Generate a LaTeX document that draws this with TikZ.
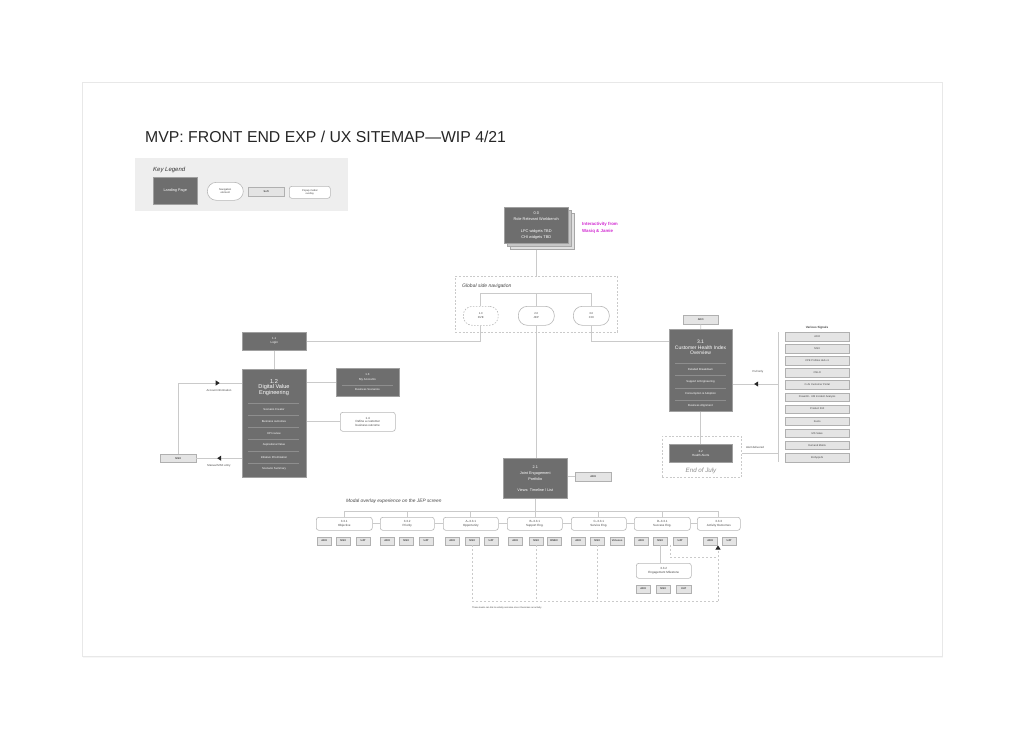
\documentclass[tikz,border=0pt]{standalone}
\usepackage{fontspec}
\setmainfont{Liberation Sans}
\usetikzlibrary{decorations.markings,arrows.meta,calc}
\definecolor{dk}{HTML}{6E6E6E}
\definecolor{dkedge}{HTML}{A0A0A0}
\definecolor{ln}{HTML}{CACACA}
\definecolor{softfill}{HTML}{E4E4E4}
\definecolor{softedge}{HTML}{B0B0B0}
\definecolor{pilledge}{HTML}{B8B8B8}
\definecolor{legbg}{HTML}{EEEEEE}
\definecolor{sepc}{HTML}{8E8E8E}
\definecolor{mag}{HTML}{D22AD2}
\definecolor{txt}{HTML}{444444}
\newcommand\fsz[2]{\fontsize{#1}{#2}\selectfont}
\tikzset{
 dark/.style={draw=dkedge, fill=dk, text=white, inner sep=0pt, anchor=north west, align=center, line width=0.5pt},
 soft/.style={draw=softedge, fill=softfill, text=txt, inner sep=0pt, anchor=north west, font=\fsz{2.6}{3}\bfseries, line width=0.4pt},
 pill/.style={draw=pilledge, fill=white, rounded corners=9pt, inner sep=0pt, anchor=north west, align=center, text=txt, font=\fsz{2.8}{3.6}, line width=0.6pt},
 popup/.style={draw=pilledge, fill=white, rounded corners=2.5pt, inner sep=0pt, anchor=north west, align=center, text=txt, font=\fsz{3}{3.6}, line width=0.6pt},
 conn/.style={draw=ln, line width=0.8pt},
 dashc/.style={draw=ln, line width=0.6pt, dash pattern=on 2pt off 2pt},
 dashbox/.style={draw=ln, line width=0.7pt, dash pattern=on 2pt off 1.6pt, inner sep=0pt, anchor=north west},
 lbl/.style={inner sep=0pt, text=txt, font=\fsz{2.8}{3.4}},
 wlbl/.style={inner sep=0pt, text=white, font=\fsz{2.8}{3.4}, align=center},
 sepl/.style={draw=sepc, line width=0.4pt},
 midarrow/.style={postaction={decorate}, decoration={markings, mark=at position #1 with {\fill[black!85] (2,0) -- (-2,2.6) -- (-2,-2.6) -- cycle;}}},
}
\begin{document}
\begin{tikzpicture}[x=1pt,y=-1pt]
\useasboundingbox (0,0) rectangle (1024,737);
\fill[white] (0,0) rectangle (1024,737);
% card
\fill[black!3] (83,84) rectangle (943,658);
\draw[black!9, fill=white, line width=0.6pt] (82,82) rectangle (942,656);

% title
\node[anchor=base west, inner sep=0pt, font=\fsz{15.8}{19}, text=black!85] (title) at (145,142) {MVP: FRONT END EXP / UX SITEMAP—WIP 4/21};

% legend
\node[fill=legbg, minimum width=213, minimum height=53, anchor=north west, inner sep=0pt] (legend) at (135,158) {};
\node[anchor=base west, inner sep=0pt, font=\fsz{6}{7}\itshape, text=black!80] (legt) at (153,171.5) {Key Legend};
\node[dark, minimum width=44, minimum height=27, font=\fsz{3.8}{4.5}] (legland) at (153,177) {Landing Page};
\node[pill, minimum width=36, minimum height=18, font=\fsz{2.6}{3.2}] (legpill) at (207,182) {Navigation\\element};
\node[soft, minimum width=36, minimum height=9] (legsoft) at (248,187) {Soft};
\node[popup, minimum width=41, minimum height=12, font=\fsz{2.6}{3.2}] (legpop) at (289,186) {Popup modal\\overlay};

% 0.0 stack
\node[draw=black!35, fill=black!12, minimum width=64, minimum height=36, inner sep=0pt, anchor=north west, line width=0.5pt] (w3) at (510,213) {};
\node[draw=black!35, fill=black!22, minimum width=64, minimum height=36, inner sep=0pt, anchor=north west, line width=0.5pt] (w2) at (507,210) {};
\node[dark, minimum width=64, minimum height=36, font=\fsz{3.9}{6}] (w00) at (504,207) {0.0\\Role Relevant Workbench\\[6pt]LPC widgets TBD\\CHI widgets TBD};
\node[anchor=north west, inner sep=0pt, font=\fsz{4.4}{7}\bfseries, text=mag, align=left] (inter) at (582,222.5) {Interactivity from\\Wasiq \& Jamie};

% global navigation
\node[dashbox, minimum width=162, minimum height=56] (gnav) at (455,276) {};
\node[anchor=base west, inner sep=0pt, font=\fsz{5}{6}\itshape, text=txt] (gnavt) at (462,287) {Global side navigation};
\node[pill, minimum width=35, minimum height=19, dash pattern=on 1.5pt off 1.5pt] (p10) at (463,306) {1.0\\DVE};
\node[pill, minimum width=36, minimum height=19] (p20) at (518,306) {2.0\\JEP};
\node[pill, minimum width=36, minimum height=19] (p30) at (573,306) {3.0\\CHI};
\draw[conn] (w00.south |- w3.south) -- (w00.south |- gnav.north);
\draw[conn] (p10.north) -- (p10.north |- 0,293) -| (p30.north);
\draw[conn] (p20.north) -- (p20.north |- 0,293);

% 1.x
\node[dark, minimum width=64, minimum height=18, font=\fsz{3}{4}] (n11) at (242,332) {1.1\\Login};
\draw[conn] (n11.east) -| (p10.south);
\node[dark, minimum width=64, minimum height=108] (n12) at (242,369) {};
\draw[conn] (n11.south) -- (n12.north);
\node[wlbl, font=\fsz{5.6}{5.6}] (n12t) at (274,387.5) {1.2\\Digital Value\\Engineering};
\foreach \yy in {403,415,427,439,451,463} \draw[sepl] (248,\yy) -- (299,\yy);
\node[wlbl] (r1) at (274,409) {Scenario Creator};
\node[wlbl] (r2) at (274,421) {Business outcomes};
\node[wlbl] (r3) at (274,433) {KPI review};
\node[wlbl] (r4) at (274,445) {Aspirational Value};
\node[wlbl] (r5) at (274,457) {Initiative Prioritization};
\node[wlbl] (r6) at (274,469) {Scenario Summary};

\node[dark, minimum width=63, minimum height=28] (n13) at (336,368) {};
\node[wlbl, font=\fsz{2.9}{5}] (n13t) at (367.5,377.5) {1.3\\My Accounts};
\draw[sepl] (342,385) -- (393,385);
\node[wlbl] (n13b) at (367.5,389) {Business Scenarios};
\draw[conn] (n13.west -| n12.east) -- (n13.west);

\node[popup, minimum width=55, minimum height=19, font=\fsz{3}{3.7}] (n14) at (340,412) {1.4\\Define a customer\\business outcome};
\draw[conn] (n14.west -| n12.east) -- (n14.west);

\node[soft, minimum width=36, minimum height=8] (msx) at (160,454) {MSX};
\coordinate (ai) at (242,383);
\draw[conn, midarrow=0.82] (msx.north) |- (ai);
\node[lbl, anchor=north] (ailbl) at (219,389) {Account information};
\draw[conn, midarrow=0.5] (n12.west |- msx.east) -- (msx.east);
\node[lbl, anchor=north] (melbl) at (219,464.5) {Manual MSX entry};

% 3.x
\node[soft, minimum width=35, minimum height=9] (ado31) at (683,315) {ADO};
\node[dark, minimum width=63, minimum height=82] (n31) at (669,329) {};
\draw[conn] (ado31.south) -- (n31.north);
\draw[conn] (p30.south) |- (n31.north west |- n11.east);
\node[wlbl, font=\fsz{5}{5.6}] (n31t) at (700.5,347.5) {3.1\\Customer Health Index\\Overview};
\foreach \yy in {363,375,388,400} \draw[sepl] (675,\yy) -- (726,\yy);
\node[wlbl] (q1) at (700.5,369) {Detailed Breakdown};
\node[wlbl] (q2) at (700.5,381.5) {Support \& Engineering};
\node[wlbl] (q3) at (700.5,393.5) {Consumption \& Adoption};
\node[wlbl] (q4) at (700.5,405.5) {Business Alignment};

\node[dashbox, minimum width=79, minimum height=41] (eoj) at (662,436) {};
\node[dark, minimum width=63, minimum height=18, font=\fsz{3}{4.5}] (n32) at (669,444) {3.2\\Health Alerts};
\node[inner sep=0pt, font=\fsz{6.2}{7}\itshape, text=black!45] (eojt) at (701,471) {End of July};
\draw[conn] (n31.south) -- (n32.north);

% signals
\node[inner sep=0pt, font=\fsz{3}{4}\bfseries, text=txt] (sigt) at (817,328) {Various Signals};
\foreach \i/\t in {0/ADO,1/MSX,2/CPE Profiles Hub v1,3/OSLO,4/C+AI Customer Portal,5/PowerBI - IcM Incident Analysis,6/Product 360,7/Kusto,8/MS Sales,9/Demand Matrix,10/BizAppsAI}
  \node[soft, minimum width=64, minimum height=8.5, font=\fsz{2.6}{3}] (s\i) at (785,332+12.1*\i) {\t};
\coordinate (sigtop) at (778,332);
\coordinate (sigbot) at (778,462);
\draw[conn] (sigtop) -- (sigbot);
\coordinate (pull) at (778,384);
\draw[conn, midarrow=0.48] (pull) -- (pull -| n31.east);
\node[lbl] (pulllbl) at (758,372) {Pull only};
\coordinate (alert) at (778,453);
\draw[conn] (alert) -- (alert -| eoj.east);
\node[lbl] (alertlbl) at (755,447) {Alert delivered};

% 2.x
\node[dark, minimum width=64, minimum height=40, font=\fsz{3.8}{6}] (n21) at (503,458) {2.1\\Joint Engagement\\Portfolio\\[5pt]Views: Timeline / List};
\draw[conn] (p20.south) -- (p20.south |- n21.north);
\node[soft, minimum width=36, minimum height=9] (ado21) at (575,472) {ADO};
\draw[conn] (n21.east |- ado21.west) -- (ado21.west);

\node[anchor=base west, inner sep=0pt, font=\fsz{4.8}{6}\itshape, text=txt] (modal) at (346,502) {Modal overlay experience on the JEP screen};

\node[popup, minimum width=56, minimum height=13] (o1) at (316,517) {3.3.1\\Objective};
\node[popup, minimum width=54, minimum height=13] (o2) at (380,517) {3.3.2\\Priority};
\node[popup, minimum width=55, minimum height=13] (o3) at (443,517) {A–3.3.1\\Opportunity};
\node[popup, minimum width=55, minimum height=13] (o4) at (507,517) {B–3.3.1\\Support Eng.};
\node[popup, minimum width=55, minimum height=13] (o5) at (571,517) {C–3.3.1\\Service Eng.};
\node[popup, minimum width=56, minimum height=13] (o6) at (634,517) {D–3.3.1\\Success Eng.};
\node[popup, minimum width=43, minimum height=13] (o7) at (697,517) {3.3.3\\Activity Outcomes};
\draw[conn] (n21.south) -- (n21.south |- o4.north);
\draw[conn] (o1.north) -- (o1.north |- 0,511) -| (o7.north);
\foreach \o in {o2,o3,o5,o6} \draw[conn] (\o.north) -- (\o.north |- 0,511);
\draw[conn] (o1.east) -- (o2.west);
\draw[conn] (o2.east) -- (o3.west);
\draw[conn] (o3.east) -- (o4.west);
\draw[conn] (o4.east) -- (o5.west);
\draw[conn] (o5.east) -- (o6.west);
\draw[conn] (o6.east) -- (o7.west);

\foreach \n/\x/\t in {o1a/317/ADO,o1b/336/MSX,o1c/356/UAT,o2a/380/ADO,o2b/399/MSX,o2c/419/UAT,o3a/445/ADO,o3b/465/MSX,o3c/484/UAT,o4a/508/ADO,o4b/529/MSX,o4c/547/RMEX,o5a/571/ADO,o5b/590/MSX,o5c/610/Virtuoso,o6a/634/ADO,o6b/653/MSX,o6c/673/UAT,o7a/703/ADO,o7b/722/UAT}
  \node[soft, minimum width=14, minimum height=7.5] (\n) at (\x,537) {\t};

% dashed feedback paths
\coordinate (botR) at (718,601);
\coordinate (arrtip) at (718,545.5);
\coordinate (dR) at (718,557);
\draw[dashc] (o3b.south) |- (botR);
\draw[dashc] (o4b.south) -- (o4b.south |- botR);
\draw[dashc] (o5b.south) -- (o5b.south |- botR);
\draw[dashc, -{Triangle[length=4pt,width=5pt,color=black!85]}] (botR) -- (arrtip);
\draw[dashc] ($(o6b.south)!0.5!(o6c.south)$) |- (dR);

% engagement milestone
\node[popup, minimum width=55, minimum height=15] (ms) at (636,563) {3.3.2\\Engagement Milestone};
\draw[conn] (o6b.south) -- (o6b.south |- ms.north);
\node[soft, minimum width=14, minimum height=7.5] (msa) at (636,585) {ADO};
\node[soft, minimum width=14, minimum height=7.5] (msb) at (656,585) {MSX};
\node[soft, minimum width=15, minimum height=7.5] (msc) at (676,585) {UAT};

\node[anchor=base west, inner sep=0pt, font=\fsz{2.3}{3}, text=txt] (foot) at (472,608) {These levels can link to activity outcome once it becomes an activity};
\end{tikzpicture}
\end{document}
